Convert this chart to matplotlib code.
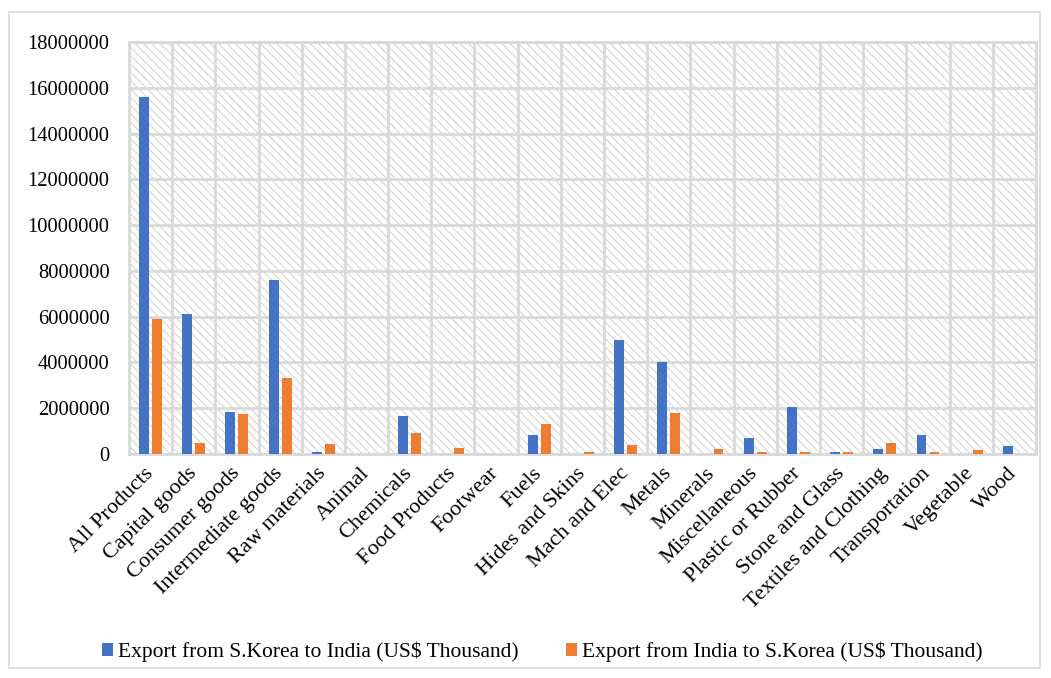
import matplotlib
matplotlib.use("Agg")
import matplotlib.pyplot as plt
import matplotlib.transforms as mtransforms
import numpy as np
from matplotlib.patches import Rectangle
from matplotlib.ticker import FuncFormatter, MultipleLocator

categories = [
    "All Products", "Capital goods", "Consumer goods", "Intermediate goods",
    "Raw materials", "Animal", "Chemicals", "Food Products", "Footwear",
    "Fuels", "Hides and Skins", "Mach and Elec", "Metals", "Minerals",
    "Miscellaneous", "Plastic or Rubber", "Stone and Glass",
    "Textiles and Clothing", "Transportation", "Vegetable", "Wood",
]

# US$ Thousand
korea_to_india = [
    15600000, 6100000, 1850000, 7600000, 90000, 10000, 1650000, 20000, 10000,
    850000, 20000, 5000000, 4000000, 20000, 700000, 2070000, 70000, 220000,
    850000, 10000, 330000,
]
india_to_korea = [
    5900000, 500000, 1750000, 3300000, 450000, 15000, 900000, 280000, 10000,
    1300000, 80000, 380000, 1800000, 220000, 100000, 100000, 80000, 500000,
    100000, 160000, 20000,
]

series_names = [
    "Export from S.Korea to India (US$ Thousand)",
    "Export from India to S.Korea (US$ Thousand)",
]
colors = ["#4472C4", "#ED7D31"]
grid_color = "#d9d9d9"

plt.rcParams["font.family"] = ["Liberation Serif", "DejaVu Serif"]
plt.rcParams["hatch.linewidth"] = 0.7

fig = plt.figure(figsize=(10.51, 6.78), dpi=100)
ax = fig.add_axes([0.1227, 0.3304, 0.8630, 0.6076])

# Hatched plot-area fill
ax.add_patch(Rectangle((0, 0), 1, 1, transform=ax.transAxes,
                       facecolor="white", edgecolor="#d0d0d0",
                       hatch="\\\\\\\\", linewidth=0, zorder=0))

x = np.arange(len(categories))
w = 0.23
off = 0.15
ax.bar(x - off, korea_to_india, width=w, color=colors[0],
       label=series_names[0], zorder=3)
ax.bar(x + off, india_to_korea, width=w, color=colors[1],
       label=series_names[1], zorder=3)

ax.set_xlim(-0.5, len(categories) - 0.5)
ax.set_ylim(0, 18000000)
ax.yaxis.set_major_locator(MultipleLocator(2000000))
ax.yaxis.set_major_formatter(FuncFormatter(lambda v, p: f"{int(v)}"))
ax.set_xticks(x)
ax.set_xticks(np.arange(-0.5, len(categories), 1), minor=True)
ax.set_xticklabels(categories, rotation=45, ha="right", va="center",
                   rotation_mode="anchor", fontsize=16)

# nudge the rotated category labels slightly right of the tick
shift = mtransforms.ScaledTranslation(4 / 100, -2 / 100, fig.dpi_scale_trans)
for lbl in ax.get_xticklabels():
    lbl.set_transform(lbl.get_transform() + shift)

ax.grid(axis="y", which="major", color=grid_color, linewidth=2, zorder=1)
ax.grid(axis="x", which="minor", color=grid_color, linewidth=2, zorder=1)
ax.set_axisbelow(True)
ax.tick_params(axis="both", which="both", length=0, colors="#000000")
ax.tick_params(axis="y", pad=14, labelsize=14.8)
ax.tick_params(axis="x", pad=12)
for s in ax.spines.values():
    s.set_color(grid_color)
    s.set_linewidth(2)

fig.legend(loc="center", bbox_to_anchor=(0.516, 0.038), ncol=2, frameon=False,
           fontsize=15.5, handlelength=0.5, handleheight=0.55,
           handletextpad=0.25, columnspacing=2.2)

# Outer chart border
fig.patches.append(Rectangle((0.009, 0.015), 0.981, 0.967,
                             transform=fig.transFigure, fill=False,
                             edgecolor="#d9d9d9", linewidth=1.2))

fig.savefig("out.png", dpi=100, facecolor="white")
